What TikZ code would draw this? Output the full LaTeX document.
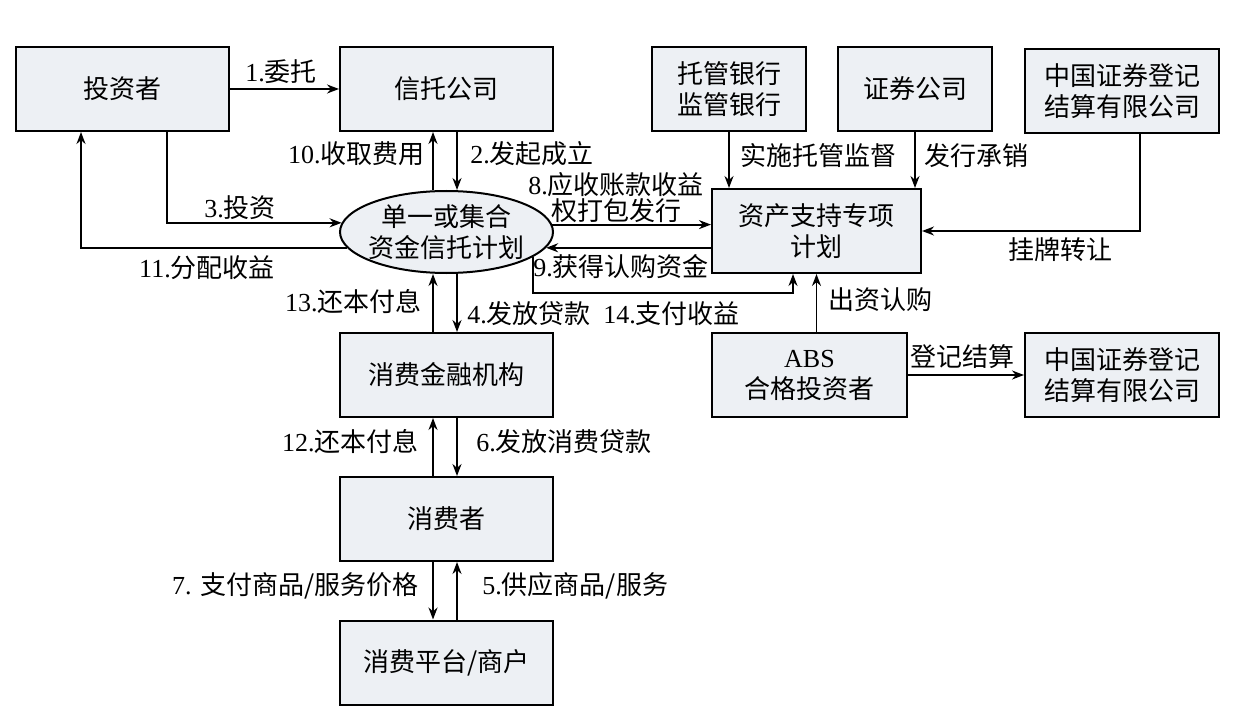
\documentclass[tikz,border=0pt]{standalone}
\usepackage{fontspec}
\setmainfont{Liberation Serif}
\newfontfamily\cjk{Noto Sans CJK SC}
\usetikzlibrary{arrows.meta,shapes.geometric,calc}
\definecolor{boxfill}{RGB}{237,240,244}
\begin{document}
\begin{tikzpicture}[x=0.5pt,y=-0.5pt,
  font=\fontsize{13}{15.5}\selectfont,
  >={Stealth[length=6pt,width=4.5pt]},
  box/.style={draw,fill=boxfill,line width=1pt,inner sep=0pt,align=center,minimum height=42pt},
  lbl/.style={inner sep=0pt,align=center},
  conn/.style={->,line width=0.9pt}]
\useasboundingbox (0,0) rectangle (1234,711);
% nodes
\node[box,minimum width=106.5pt] (inv) at (122.5,89) {\cjk 投资者};
\node[box,minimum width=106.5pt] (trust) at (446.5,89) {\cjk 信托公司};
\node[box,minimum width=77pt] (cust) at (729,89) {\cjk 托管银行\\\cjk 监管银行};
\node[box,minimum width=77pt] (sec) at (915,89) {\cjk 证券公司};
\node[box,minimum width=97pt] (csdcA) at (1122,91) {\cjk 中国证券登记\\\cjk 结算有限公司};
\node[ellipse,draw,fill=boxfill,line width=1pt,inner sep=0pt,minimum width=106.5pt,minimum height=41pt] (plan) at (446.5,232) {};
\node[lbl] (plantext) at (plan.center) {\cjk 单一或集合\\\cjk 资金信托计划};
\node[box,minimum width=104.5pt] (abs) at (816.5,231) {\cjk 资产支持专项\\\cjk 计划};
\node[box,minimum width=106.5pt] (cfi) at (446.5,375) {\cjk 消费金融机构};
\node[box,minimum width=106.5pt] (cons) at (446.5,519) {\cjk 消费者};
\node[box,minimum width=106.5pt] (merch) at (446.5,662.5) {\cjk 消费平台/商户};
\node[box,minimum width=97.5pt] (absinv) at (809.5,375) {ABS\\{\cjk 合格投资者}};
\node[box,minimum width=97pt] (csdcB) at (1122,375) {\cjk 中国证券登记\\\cjk 结算有限公司};
\coordinate (c14) at (793,293);
% connectors
\draw[conn] (inv.east) -- (trust.west);
\draw[conn] ([xshift=5.25pt]trust.south) -- ([xshift=5.25pt]plan.north);
\draw[conn] ([xshift=-6.75pt]plan.north) -- ([xshift=-6.75pt]trust.south);
\draw[conn] ([xshift=22.25pt]inv.south) |- (plan.175);
\draw[conn] (plan.189) -| ([xshift=-20.75pt]inv.south);
\draw[conn] (plan.4) -- (plan.4 -| abs.west);
\draw[conn] (plan.351 -| abs.west) -- (plan.351);
\draw[conn] (plan.344) |- (c14) -- (c14 |- abs.south);
\draw[conn] ([xshift=5.25pt]plan.south) -- ([xshift=5.25pt]cfi.north);
\draw[conn] ([xshift=-6.75pt]cfi.north) -- ([xshift=-6.75pt]plan.south);
\draw[conn] ([xshift=-6.75pt]cons.north) -- ([xshift=-6.75pt]cfi.south);
\draw[conn] ([xshift=5.25pt]cfi.south) -- ([xshift=5.25pt]cons.north);
\draw[conn] ([xshift=-6.75pt]cons.south) -- ([xshift=-6.75pt]merch.north);
\draw[conn] ([xshift=5.25pt]merch.north) -- ([xshift=5.25pt]cons.south);
\draw[conn] (cust.south) -- (cust.south |- abs.north);
\draw[conn] (sec.south) -- (sec.south |- abs.north);
\draw[conn] ([xshift=9pt]csdcA.south) |- (abs.east);
\draw[conn] (absinv.north -| abs.south) -- (abs.south);
\draw[conn] (absinv.east) -- (csdcB.west);
% labels
\node[lbl] (l1) at (281,72) {1.{\cjk 委托}};
\node[lbl,anchor=east] (l10) at (425,154) {10.{\cjk 收取费用}};
\node[lbl,anchor=west] (l2) at (470,154) {2.{\cjk 发起成立}};
\node[lbl] (l3) at (240,208) {3.{\cjk 投资}};
\node[lbl] (l11) at (207,268) {11.{\cjk 分配收益}};
\node[lbl,font=\fontsize{13}{13}\selectfont] (l8) at (616,198) {8.{\cjk 应收账款收益}\\{\cjk 权打包发行}};
\node[lbl] (l9) at (621,267) {9.{\cjk 获得认购资金}};
\node[lbl,anchor=east] (l13) at (422,302) {13.{\cjk 还本付息}};
\node[lbl,anchor=west] (l4) at (467,314) {4.{\cjk 发放贷款}};
\node[lbl,anchor=west] (l14) at (603,314) {14.{\cjk 支付收益}};
\node[lbl,anchor=east] (l12) at (419,442) {12.{\cjk 还本付息}};
\node[lbl,anchor=west] (l6) at (476,442) {6.{\cjk 发放消费贷款}};
\node[lbl,anchor=east] (l7) at (419,586) {7. {\cjk 支付商品/服务价格}};
\node[lbl,anchor=west] (l5) at (482,586) {5.{\cjk 供应商品/服务}};
\node[lbl] (lcust) at (818,156) {\cjk 实施托管监督};
\node[lbl,anchor=west] (lsec) at (924,156) {\cjk 发行承销};
\node[lbl] (lgp) at (1060,250) {\cjk 挂牌转让};
\node[lbl,anchor=west] (lcz) at (828,300) {\cjk 出资认购};
\node[lbl] (ldj) at (962,357) {\cjk 登记结算};
\end{tikzpicture}
\end{document}
